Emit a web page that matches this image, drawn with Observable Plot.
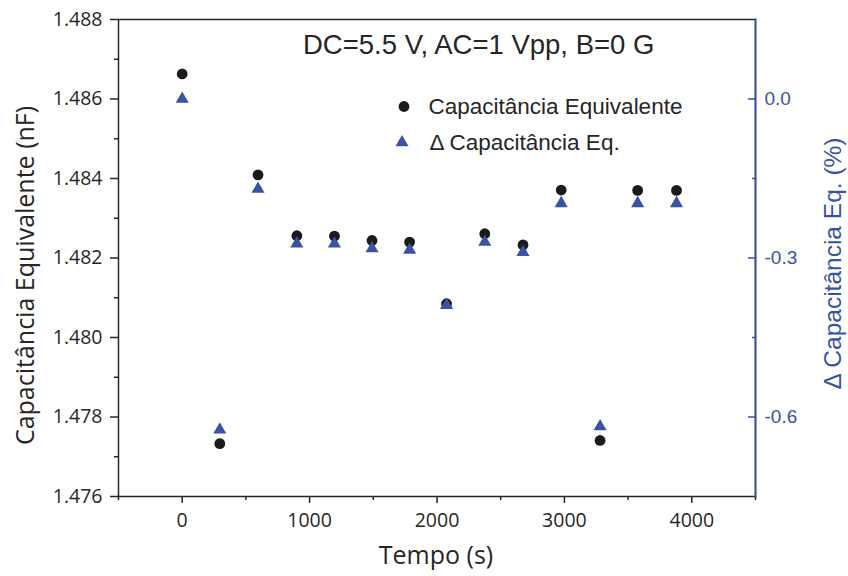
<!DOCTYPE html>
<html><head><meta charset="utf-8">
<script src="https://cdn.jsdelivr.net/npm/d3@7"></script>
<script src="https://cdn.jsdelivr.net/npm/@observablehq/plot@0.6"></script>
<style>
body{margin:0;background:#fff;}
#wrap{position:relative;width:848px;height:576px;overflow:hidden;}
#wrap svg{position:absolute;left:0;top:0;}
</style></head><body><div id="wrap"></div>
<script>
// ---- data ----
const tempo = [0, 295, 595, 900, 1195, 1490, 1785, 2075, 2375, 2675, 2975, 3280, 3575, 3880];
const capacitancia = [1.48663, 1.47733, 1.48409, 1.48256, 1.48255, 1.48244, 1.48240, 1.48085, 1.48261, 1.48233, 1.48371, 1.47741, 1.48370, 1.48370];
const deltaCap = [0.0, -0.624, -0.170, -0.273, -0.273, -0.282, -0.285, -0.389, -0.270, -0.289, -0.197, -0.618, -0.197, -0.197];
const xTicks = [0, 1000, 2000, 3000, 4000];
const xMinorTicks = [-500, 500, 1500, 2500, 3500, 4500];
const yTicks = [1.476, 1.478, 1.480, 1.482, 1.484, 1.486, 1.488];
const yMinorTicks = [1.477, 1.479, 1.481, 1.483, 1.485, 1.487];
const rTicks = [-0.6, -0.3, 0.0];
const rMinorTicks = [-0.45, -0.15];
const titleText = "DC=5.5 V, AC=1 Vpp, B=0 G";
const xLabel = "Tempo (s)";
const yLabel = "Capacitância Equivalente (nF)";
const rLabel = "\u0394 Capacitância Eq. (%)";
const legendLabels = ["Capacitância Equivalente", "\u0394 Capacitância Eq."];

const rows = tempo.map((t, i) => ({t, c: capacitancia[i], d: deltaCap[i]}));

const W = 848, H = 576;
const margins = {marginLeft: 118, marginRight: 93, marginTop: 19, marginBottom: 80};
const humanist = "'Open Sans', 'Noto Sans', sans-serif";
const arial = "'Liberation Sans', Arial, sans-serif";
const blue = "#3853a4";
const ink = "#262626";
const dotFill = "#1b1b1b";

const p1 = Plot.plot({
  width: W, height: H, ...margins,
  style: {background: "transparent", overflow: "visible"},
  x: {domain: [-500, 4500]},
  y: {domain: [1.476, 1.488]},
  marks: [
    Plot.frame({stroke: ink, strokeWidth: 1.5}),
    Plot.axisX(xTicks, {tickSize: 7, tickPadding: 10, tickFormat: d => String(d), fontSize: 19.5, fontFamily: humanist, color: ink, strokeWidth: 1.5, label: null}),
    Plot.axisX(xMinorTicks, {tickSize: 4, tickFormat: () => "", color: ink, strokeWidth: 1.5, label: null}),
    Plot.axisY(yTicks, {tickSize: 8, tickPadding: 8, tickFormat: d3.format(".3f"), fontSize: 19.5, fontFamily: humanist, color: ink, strokeWidth: 1.5, label: null}),
    Plot.axisY(yMinorTicks, {tickSize: 4, tickFormat: () => "", color: ink, strokeWidth: 1.5, label: null}),
    Plot.dot(rows, {x: "t", y: "c", r: 5.4, fill: dotFill, symbol: "circle"}),
    Plot.text([titleText], {text: d => d, frameAnchor: "top-left", dx: 184.5, dy: 34.3, textAnchor: "start", lineAnchor: "bottom", fontSize: 27.5, fontFamily: arial, fill: ink}),
    Plot.text([yLabel], {text: d => d, frameAnchor: "left", rotate: -90, dx: -93, dy: 17.5, textAnchor: "middle", lineAnchor: "middle", fontSize: 25, fontFamily: humanist, fill: ink}),
    Plot.text([xLabel], {text: d => d, frameAnchor: "bottom", dx: -1, dy: 59, textAnchor: "middle", lineAnchor: "middle", fontSize: 25, fontFamily: humanist, fill: ink}),
    Plot.dot([legendLabels[0]], {frameAnchor: "top-left", dx: 285.5, dy: 87, r: 5.4, fill: dotFill}),
    Plot.text([legendLabels[0]], {text: d => d, frameAnchor: "top-left", dx: 310, dy: 94, textAnchor: "start", lineAnchor: "bottom", fontSize: 22.5, fontFamily: arial, fill: ink}),
    Plot.text([legendLabels[1]], {text: d => d, frameAnchor: "top-left", dx: 311, dy: 130, textAnchor: "start", lineAnchor: "bottom", fontSize: 22.5, fontFamily: arial, fill: ink})
  ]
});

const p2 = Plot.plot({
  width: W, height: H, ...margins,
  style: {background: "transparent", overflow: "visible"},
  x: {domain: [-500, 4500], axis: null},
  y: {domain: [-0.75, 0.15]},
  marks: [
    Plot.frame({anchor: "right", stroke: blue, strokeWidth: 1.8}),
    Plot.axisY(rTicks, {anchor: "right", tickSize: -8, tickPadding: 17, tickFormat: d => d.toFixed(1), fontSize: 19, fontFamily: arial, color: blue, strokeWidth: 1.5, label: null}),
    Plot.axisY(rMinorTicks, {anchor: "right", tickSize: -4, tickFormat: () => "", color: blue, strokeWidth: 1.5, label: null}),
    Plot.dot(rows, {x: "t", y: "d", symbol: "triangle", r: 4.85, fill: blue}),
    Plot.dot([legendLabels[1]], {frameAnchor: "top-left", symbol: "triangle", dx: 283.5, dy: 123, r: 4.85, fill: blue}),
    Plot.text([rLabel], {text: d => d, frameAnchor: "right", rotate: -90, dx: 78, dy: 5.5, textAnchor: "middle", lineAnchor: "middle", fontSize: 24.5, fontFamily: arial, fill: blue})
  ]
});

const wrap = document.getElementById("wrap");
wrap.appendChild(p1);
wrap.appendChild(p2);
</script>
</body></html>
